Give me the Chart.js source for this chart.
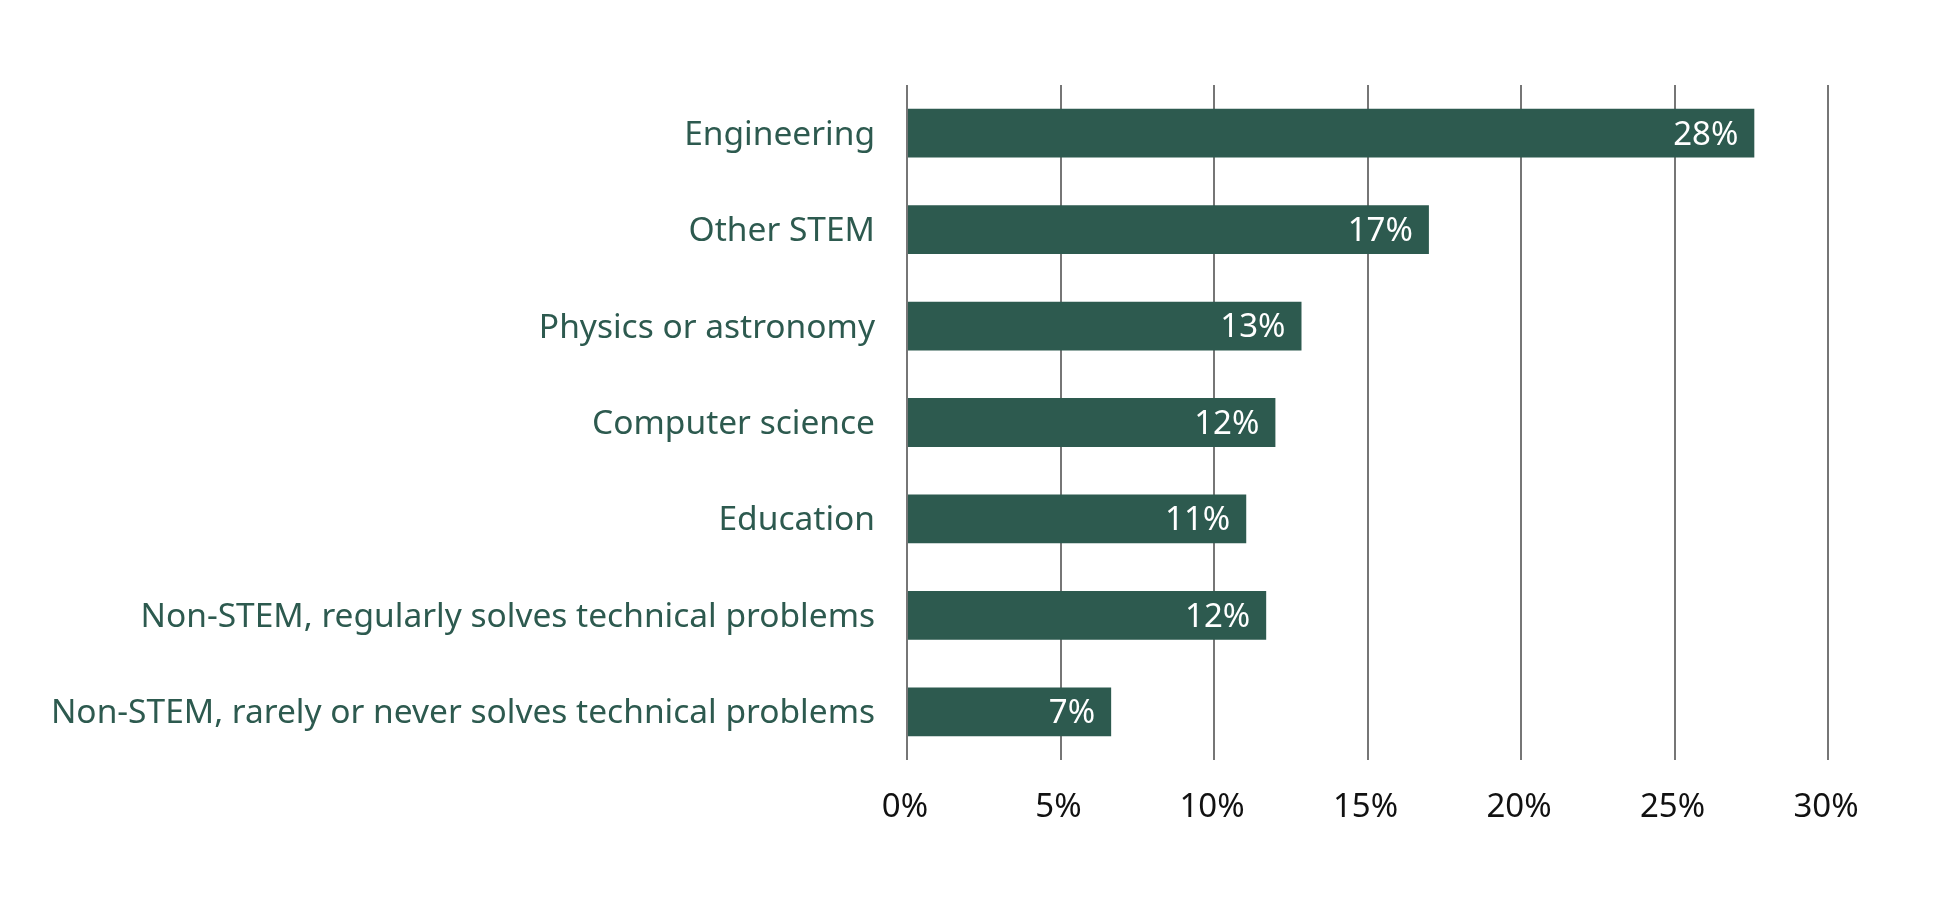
<!DOCTYPE html>
<html>
<head>
<meta charset="utf-8">
<script src="https://cdn.jsdelivr.net/npm/chart.js@4/dist/chart.umd.min.js"></script>
<style>
  html, body { margin: 0; padding: 0; background: #ffffff; }
  #wrap { width: 1950px; height: 918px; }
</style>
</head>
<body>
<div id="wrap"><canvas id="fieldChart" width="1950" height="918"></canvas></div>
<script>
// Data
const categories = [
  "Engineering",
  "Other STEM",
  "Physics or astronomy",
  "Computer science",
  "Education",
  "Non-STEM, regularly solves technical problems",
  "Non-STEM, rarely or never solves technical problems",
];
const shares = [27.6, 17.0, 12.85, 12.0, 11.05, 11.7, 6.65];
const shareLabels = ["28%", "17%", "13%", "12%", "11%", "12%", "7%"];
const tickValues = [0, 5, 10, 15, 20, 25, 30];

const barColor = "#2d5a4f";
const labelColor = "#2d5a4f";

// Value labels drawn inside the end of each bar
const barEndLabels = {
  id: "barEndLabels",
  afterDatasetsDraw(chart) {
    const ctx = chart.ctx;
    const meta = chart.getDatasetMeta(0);
    ctx.save();
    ctx.fillStyle = "#ffffff";
    ctx.font = "33px 'Noto Sans'";
    ctx.textAlign = "right";
    ctx.textBaseline = "middle";
    meta.data.forEach((bar, i) => {
      ctx.fillText(shareLabels[i], bar.x - 16, bar.y + 2);
    });
    ctx.restore();
  },
};

const ctx = document.getElementById("fieldChart").getContext("2d");
const fieldChart = new Chart(ctx, {
  type: "bar",
  data: {
    labels: categories,
    datasets: [
      {
        data: shares,
        backgroundColor: barColor,
        borderWidth: 0,
        categoryPercentage: 1,
        barPercentage: 0.506,
      },
    ],
  },
  options: {
    indexAxis: "y",
    responsive: false,
    devicePixelRatio: 1,
    animation: false,
    layout: {
      padding: { left: 0, right: 122, top: 85, bottom: 0 },
    },
    scales: {
      x: {
        min: 0,
        max: 30,
        afterBuildTicks: function (scale) {
          scale.ticks = tickValues.map((v) => ({ value: v }));
        },
        afterFit: function (scale) {
          scale.height = 158;
        },
        ticks: {
          color: "#111111",
          padding: 28,
          labelOffset: -2,
          font: { family: "'Noto Sans'", size: 33 },
          callback: function (value) {
            return value + "%";
          },
        },
        grid: {
          color: "#767676",
          lineWidth: 2,
          drawTicks: false,
        },
        border: { display: false },
      },
      y: {
        afterFit: function (scale) {
          scale.width = 907;
        },
        ticks: {
          color: labelColor,
          padding: 32,
          labelOffset: 2,
          font: { family: "'Noto Sans'", size: 33.5 },
        },
        grid: { display: false, drawTicks: false },
        border: { display: false },
      },
    },
    plugins: {
      legend: { display: false },
      tooltip: { enabled: false },
    },
  },
  plugins: [barEndLabels],
});
</script>
</body>
</html>
